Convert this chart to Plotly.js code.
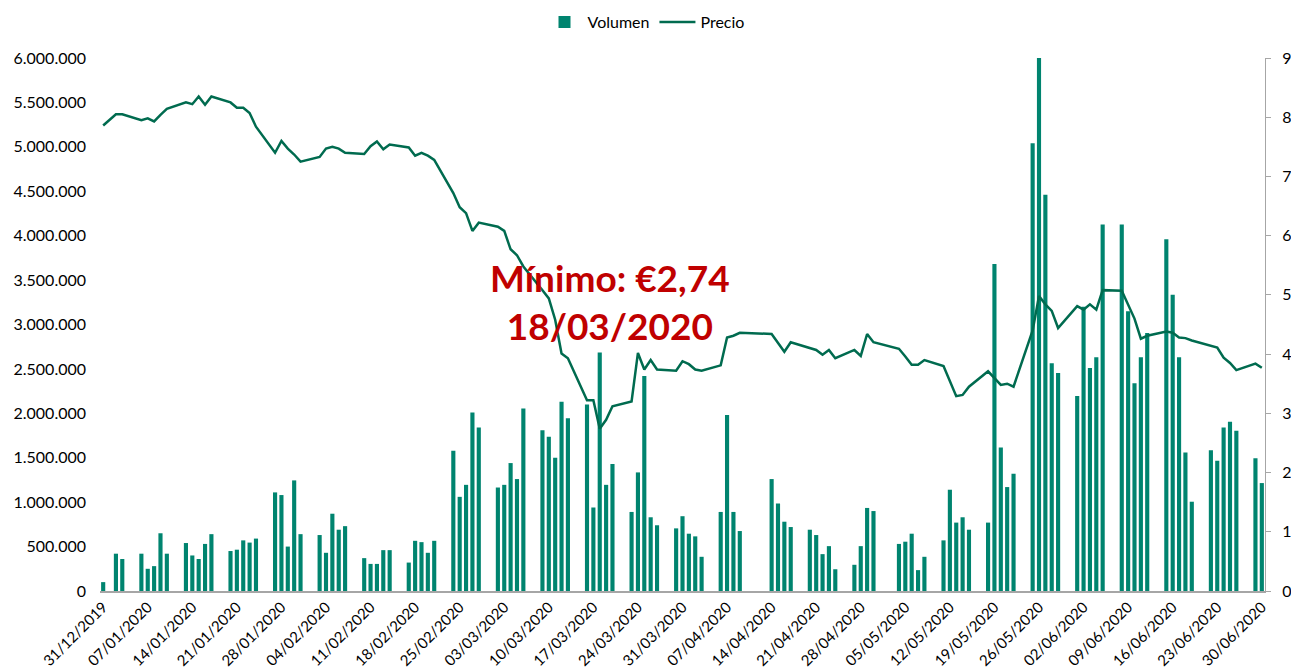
<!DOCTYPE html>
<html>
<head>
<meta charset="utf-8">
<script src="https://cdn.plot.ly/plotly-3.0.1.min.js"></script>
<style>
html,body{margin:0;padding:0;background:#fff;}
#chart{width:1291px;height:671px;}
</style>
</head>
<body>
<div id="chart"></div>
<script>
const dates = [
"2019-12-31","2020-01-02","2020-01-03","2020-01-06","2020-01-07","2020-01-08","2020-01-09","2020-01-10",
"2020-01-13","2020-01-14","2020-01-15","2020-01-16","2020-01-17","2020-01-20","2020-01-21","2020-01-22",
"2020-01-23","2020-01-24","2020-01-27","2020-01-28","2020-01-29","2020-01-30","2020-01-31","2020-02-03",
"2020-02-04","2020-02-05","2020-02-06","2020-02-07","2020-02-10","2020-02-11","2020-02-12","2020-02-13",
"2020-02-14","2020-02-17","2020-02-18","2020-02-19","2020-02-20","2020-02-21","2020-02-24","2020-02-25",
"2020-02-26","2020-02-27","2020-02-28","2020-03-02","2020-03-03","2020-03-04","2020-03-05","2020-03-06",
"2020-03-09","2020-03-10","2020-03-11","2020-03-12","2020-03-13","2020-03-16","2020-03-17","2020-03-18",
"2020-03-19","2020-03-20","2020-03-23","2020-03-24","2020-03-25","2020-03-26","2020-03-27","2020-03-30",
"2020-03-31","2020-04-01","2020-04-02","2020-04-03","2020-04-06","2020-04-07","2020-04-08","2020-04-09",
"2020-04-14","2020-04-15","2020-04-16","2020-04-17","2020-04-20","2020-04-21","2020-04-22","2020-04-23",
"2020-04-24","2020-04-27","2020-04-28","2020-04-29","2020-04-30","2020-05-04","2020-05-05","2020-05-06",
"2020-05-07","2020-05-08","2020-05-11","2020-05-12","2020-05-13","2020-05-14","2020-05-15","2020-05-18",
"2020-05-19","2020-05-20","2020-05-21","2020-05-22","2020-05-25","2020-05-26","2020-05-27","2020-05-28",
"2020-05-29","2020-06-01","2020-06-02","2020-06-03","2020-06-04","2020-06-05","2020-06-08","2020-06-09",
"2020-06-10","2020-06-11","2020-06-12","2020-06-15","2020-06-16","2020-06-17","2020-06-18","2020-06-19",
"2020-06-22","2020-06-23","2020-06-24","2020-06-25","2020-06-26","2020-06-29","2020-06-30"
];

const volumen = [
100000,420000,360000,420000,250000,280000,650000,420000,
540000,400000,360000,530000,640000,450000,465000,570000,
545000,590000,1110000,1080000,500000,1245000,640000,630000,
430000,870000,690000,730000,370000,305000,305000,460000,
460000,320000,565000,550000,430000,565000,1580000,1060000,
1195000,2010000,1840000,1165000,1195000,1440000,1260000,2055000,
1810000,1735000,1500000,2130000,1945000,2100000,940000,2685000,
1195000,1430000,890000,1335000,2420000,830000,740000,705000,
842000,645000,615000,385000,890000,1980000,890000,675000,
1260000,985000,780000,720000,690000,630000,415000,505000,
245000,295000,505000,935000,900000,530000,555000,645000,
235000,385000,570000,1140000,770000,830000,690000,770000,
3680000,1615000,1170000,1320000,5040000,6000000,4460000,2565000,
2455000,2195000,3200000,2510000,2630000,4125000,4125000,3150000,
2340000,2630000,2905000,3960000,3335000,2630000,1560000,1005000,
1585000,1465000,1840000,1905000,1805000,1495000,1215000
];

const precio = [
7.86,8.05,8.05,7.95,7.98,7.93,8.04,8.14,
8.25,8.22,8.35,8.21,8.35,8.25,8.16,8.16,
8.07,7.84,7.40,7.60,7.47,7.37,7.25,7.33,
7.47,7.50,7.47,7.40,7.38,7.51,7.59,7.46,
7.54,7.49,7.35,7.40,7.35,7.28,6.72,6.48,
6.38,6.08,6.22,6.15,6.08,5.77,5.67,5.48,
5.08,4.94,4.58,4.01,3.93,3.22,3.22,2.74,
2.89,3.12,3.20,4.02,3.74,3.90,3.74,3.72,
3.88,3.83,3.74,3.72,3.81,4.28,4.31,4.36,
4.34,4.19,4.04,4.20,4.10,4.07,3.99,4.07,
3.93,4.07,3.97,4.34,4.20,4.09,3.96,3.82,
3.82,3.90,3.80,3.55,3.29,3.31,3.45,3.71,
3.59,3.48,3.50,3.45,4.40,4.98,4.84,4.73,
4.44,4.81,4.75,4.84,4.75,5.08,5.07,4.84,
4.60,4.26,4.31,4.38,4.36,4.28,4.27,4.23,
4.13,4.11,3.94,3.85,3.73,3.84,3.77
];

const tickDates = [
"2019-12-31","2020-01-07","2020-01-14","2020-01-21","2020-01-28","2020-02-04","2020-02-11","2020-02-18",
"2020-02-25","2020-03-03","2020-03-10","2020-03-17","2020-03-24","2020-03-31","2020-04-07","2020-04-14",
"2020-04-21","2020-04-28","2020-05-05","2020-05-12","2020-05-19","2020-05-26","2020-06-02","2020-06-09",
"2020-06-16","2020-06-23","2020-06-30"
];
const tickLabels = [
"31/12/2019","07/01/2020","14/01/2020","21/01/2020","28/01/2020","04/02/2020","11/02/2020","18/02/2020",
"25/02/2020","03/03/2020","10/03/2020","17/03/2020","24/03/2020","31/03/2020","07/04/2020","14/04/2020",
"21/04/2020","28/04/2020","05/05/2020","12/05/2020","19/05/2020","26/05/2020","02/06/2020","09/06/2020",
"16/06/2020","23/06/2020","30/06/2020"
];

const annotationText = "Mínimo: €2,74<br>18/03/2020";

const FONT = "Lato, 'Open Sans', sans-serif";

const traces = [
  {
    type: "bar",
    name: "Volumen",
    x: dates,
    y: volumen,
    width: 0.65 * 86400000,
    marker: { color: "#00846f", line: { width: 0 } },
    yaxis: "y",
    hoverinfo: "skip"
  },
  {
    type: "scatter",
    mode: "lines",
    name: "Precio",
    x: dates,
    y: precio,
    line: { color: "#006b4f", width: 2.5 },
    yaxis: "y2",
    hoverinfo: "skip"
  }
];

const layout = {
  width: 1291,
  height: 671,
  margin: { l: 100, r: 26, t: 58, b: 80 },
  paper_bgcolor: "#ffffff",
  plot_bgcolor: "#ffffff",
  separators: ",.",
  font: { family: FONT, size: 15, color: "#000000" },
  showlegend: true,
  legend: {
    orientation: "h",
    xref: "container", yref: "container",
    x: 0.5, xanchor: "center",
    y: 0.967, yanchor: "middle",
    font: { family: FONT, size: 16, color: "#000" },
    traceorder: "normal",
    itemwidth: 36
  },
  xaxis: {
    type: "date",
    range: ["2019-12-30 12:00", "2020-06-30 12:00"],
    tickvals: tickDates,
    ticktext: tickLabels,
    tickangle: -45,
    tickfont: { family: FONT, size: 15, color: "#000" },
    showgrid: false,
    zeroline: false,
    showline: true,
    linecolor: "#a6a6a6",
    linewidth: 1.5,
    ticks: "",
    automargin: false
  },
  yaxis: {
    range: [0, 6000000],
    dtick: 500000,
    tick0: 0,
    tickformat: ",d",
    showgrid: false,
    zeroline: false,
    showline: false,
    ticks: "",
    ticklabelstandoff: 13,
    tickfont: { family: FONT, size: 16, color: "#000" },
    automargin: false
  },
  yaxis2: {
    overlaying: "y",
    side: "right",
    range: [0, 9],
    dtick: 1,
    tick0: 0,
    showgrid: false,
    zeroline: false,
    showline: true,
    linecolor: "#a6a6a6",
    linewidth: 1,
    ticks: "outside",
    ticklen: 5,
    tickcolor: "#a6a6a6",
    ticklabelstandoff: 8,
    tickfont: { family: FONT, size: 16, color: "#000" },
    automargin: false
  },
  annotations: [
    {
      xref: "paper", yref: "paper",
      x: 0.4378, y: 0.544,
      xanchor: "center", yanchor: "middle",
      text: annotationText,
      showarrow: false,
      align: "center",
      font: { family: FONT, size: 37, color: "#c00000", weight: "bold" }
    }
  ]
};

Plotly.newPlot("chart", traces, layout, { displayModeBar: false, staticPlot: true });
</script>
</body>
</html>
